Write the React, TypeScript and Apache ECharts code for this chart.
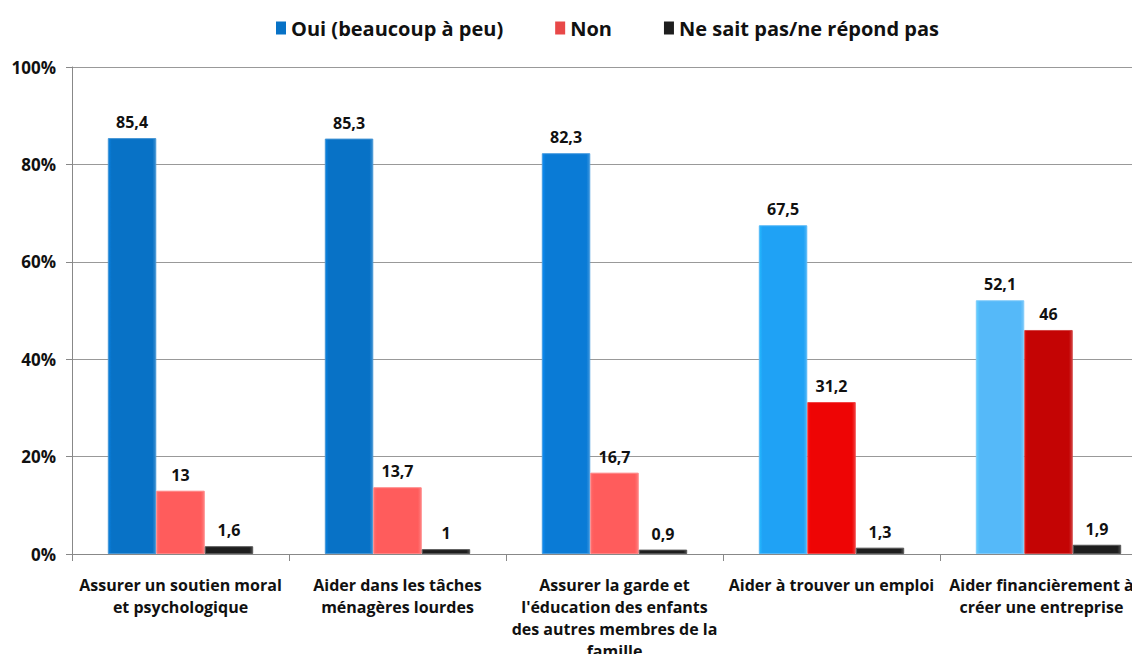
import React, { useEffect, useRef } from "react";
import * as echarts from "echarts";

const categories = [
  "Assurer un soutien moral\net psychologique",
  "Aider dans les tâches\nménagères lourdes",
  "Assurer la garde et\nl'éducation des enfants\ndes autres membres de la\nfamille",
  "Aider à trouver un emploi",
  "Aider financièrement à\ncréer une entreprise",
];
const seriesNames = ["Oui (beaucoup à peu)", "Non", "Ne sait pas/ne répond pas"];
const ouiValues = [85.4, 85.3, 82.3, 67.5, 52.1];
const nonValues = [13, 13.7, 16.7, 31.2, 46];
const nspValues = [1.6, 1, 0.9, 1.3, 1.9];
const yTicks = { min: 0, max: 100, interval: 20 };

const ouiColors = ["#0872C6", "#0872C6", "#0A7BD6", "#1FA2F5", "#55B9F9"];
const nonColors = ["#FF5C5C", "#FF5C5C", "#FF5C5C", "#EE0505", "#C40404"];
const nspColor = "#1E1E1E";
const legendColors = ["#0872C6", "#E84848", "#1E1E1E"];

const FONT = "'Open Sans', Lato, sans-serif";

function bevel(c: string) {
  const light = echarts.color.lift(c, -0.15) as string;
  const dark = echarts.color.lift(c, 0.2) as string;
  return new echarts.graphic.LinearGradient(0, 0, 1, 0, [
    { offset: 0, color: light },
    { offset: 0.07, color: c },
    { offset: 0.93, color: c },
    { offset: 1, color: dark },
  ]);
}

export default function App() {
  const ref = useRef<HTMLDivElement>(null);
  useEffect(() => {
    if (!ref.current) return;
    const chart = echarts.init(ref.current, undefined, { renderer: "svg" });
    const fmt = (p: any) => String(p.value).replace(".", ",");
    const label = {
      show: true,
      position: "top" as const,
      distance: 8,
      formatter: fmt,
      color: "#111",
      fontFamily: FONT,
      fontWeight: "bold" as const,
      fontSize: 16,
    };
    const mk = (vals: number[], colors: string[]) =>
      vals.map((v, i) => ({
        value: v,
        itemStyle: { color: bevel(colors[i]), borderColor: echarts.color.lift(colors[i], 0.25), borderWidth: 1 },
      }));
    const catData = categories.map((c, i) =>
      i === categories.length - 1 ? { value: c, textStyle: { padding: [0, 14, 0, 0] } } : c
    );
    chart.setOption({
      animation: false,
      legend: {
        top: 13,
        left: 271,
        itemWidth: 10,
        itemHeight: 13,
        itemGap: 52,
        icon: "rect",
        textStyle: { fontFamily: FONT, fontWeight: "bold", fontSize: 20, color: "#111" },
        data: seriesNames.map((n, i) => ({ name: n, itemStyle: { color: legendColors[i] } })),
      },
      grid: { left: 72, top: 67, bottom: 107, right: 0, containLabel: false },
      xAxis: {
        type: "category",
        data: catData,
        axisLine: { lineStyle: { color: "#888" } },
        axisTick: { show: true, length: 7, alignWithLabel: false, lineStyle: { color: "#888" } },
        axisLabel: {
          interval: 0,
          margin: 20,
          fontFamily: FONT,
          fontWeight: "bold",
          fontSize: 16,
          lineHeight: 22,
          color: "#111",
        },
      },
      yAxis: {
        type: "value",
        min: yTicks.min,
        max: yTicks.max,
        interval: yTicks.interval,
        axisLine: { show: true, lineStyle: { color: "#888" } },
        axisTick: { show: true, length: 6, lineStyle: { color: "#888" } },
        splitLine: { lineStyle: { color: "#999" } },
        axisLabel: {
          formatter: "{value}%",
          margin: 16,
          fontFamily: FONT,
          fontWeight: "bold",
          fontSize: 17,
          color: "#111",
        },
      },
      series: [
        {
          name: seriesNames[0],
          type: "bar",
          barGap: "0%",
          barCategoryGap: "33%",
          data: mk(ouiValues, ouiColors),
          label,
        },
        {
          name: seriesNames[1],
          type: "bar",
          data: mk(nonValues, nonColors),
          label,
        },
        {
          name: seriesNames[2],
          type: "bar",
          data: mk(nspValues, nspValues.map(() => nspColor)),
          label,
        },
      ],
    });
    return () => chart.dispose();
  }, []);
  return (
    <div style={{ margin: -8, width: 1140, height: 662, overflow: "hidden", position: "relative" }}>
      <div ref={ref} style={{ width: 1157, height: 662 }} />
    </div>
  );
}
